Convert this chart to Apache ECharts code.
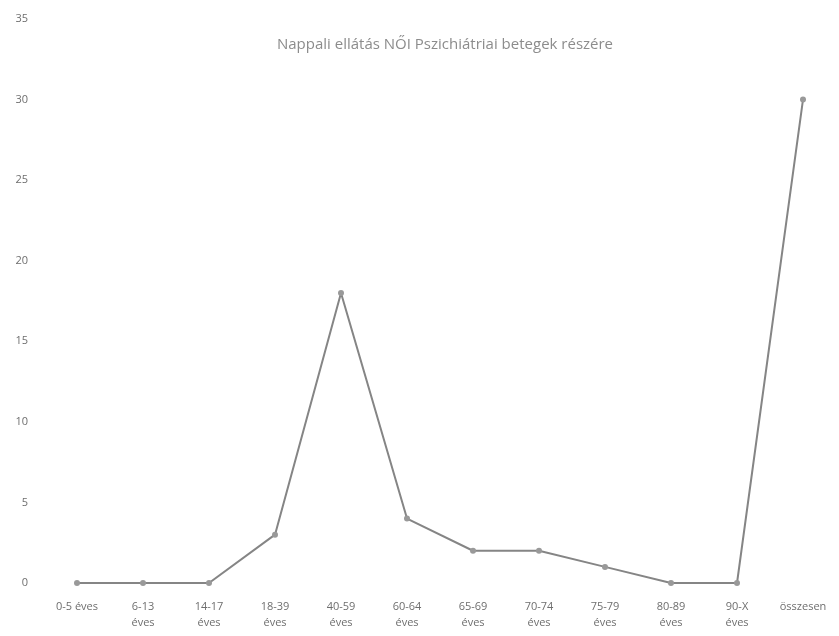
<!DOCTYPE html>
<html>
<head>
<meta charset="utf-8">
<script src="https://cdn.jsdelivr.net/npm/echarts@6/dist/echarts.min.js"></script>
<style>
  html, body { margin: 0; padding: 0; background: #fff; }
  #chart { width: 839px; height: 636px; }
</style>
</head>
<body>
<div id="chart"></div>
<script>
const categories = ["0-5 éves", "6-13\néves", "14-17\néves", "18-39\néves", "40-59\néves", "60-64\néves",
  "65-69\néves", "70-74\néves", "75-79\néves", "80-89\néves", "90-X\néves", "összesen"];
const values = [0, 0, 0, 3, 18, 4, 2, 2, 1, 0, 0, 30];
const yTicks = [0, 5, 10, 15, 20, 25, 30, 35];

const myChart = echarts.init(document.getElementById("chart"));

const option = {
  backgroundColor: "#ffffff",
  textStyle: { fontFamily: "Open Sans" },
  title: {
    text: "Nappali ellátás NŐI Pszichiátriai betegek részére",
    left: 440,
    textAlign: "center",
    top: 32,
    textStyle: { fontSize: 15, fontWeight: "normal", color: "#8c8c8c", fontFamily: "Open Sans" }
  },
  grid: { left: 44, right: 3, top: 19, bottom: 53 },
  xAxis: {
    type: "category",
    data: categories,
    axisLine: { show: false },
    axisTick: { show: false },
    axisLabel: { color: "#6e6e6e", fontSize: 11, margin: 16, lineHeight: 16, interval: 0 }
  },
  yAxis: {
    type: "value",
    min: yTicks[0],
    max: yTicks[yTicks.length - 1],
    interval: 5,
    splitLine: { show: false },
    axisLine: { show: false },
    axisTick: { show: false },
    axisLabel: { color: "#6e6e6e", fontSize: 11, margin: 16 }
  },
  series: [{
    type: "line",
    data: values,
    symbol: "circle",
    symbolSize: 6,
    lineStyle: { color: "#858585", width: 2 },
    itemStyle: { color: "#999999" }
  }]
};
myChart.setOption(option);
</script>
</body>
</html>
